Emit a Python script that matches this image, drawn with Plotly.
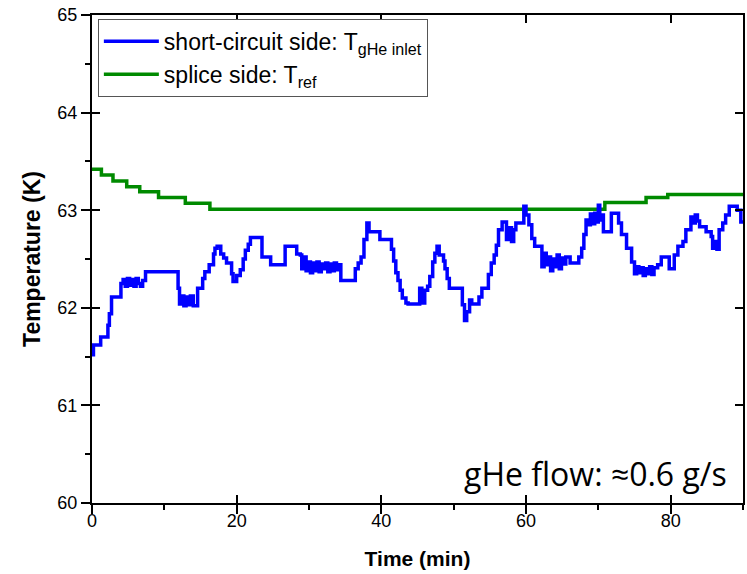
import plotly.graph_objects as go

# ---- data ----
blue_t = [0.0, 0.2, 1.2, 2.2, 2.4, 2.7, 4.0, 4.3, 4.6, 4.9, 5.2, 5.5, 5.8, 6.1, 6.4, 6.7, 7.0, 7.4,
          11.9, 12.1, 12.4, 12.7, 13.0, 13.3, 13.6, 14.0, 14.6, 15.3, 15.6, 16.2, 16.8, 17.0, 17.3,
          17.8, 18.2, 18.6, 19.3, 19.5, 20.0, 20.5, 20.9, 21.2, 21.6, 21.9, 23.5, 24.7, 26.7, 28.3,
          28.8, 29.0, 29.3, 29.6, 29.9, 30.2, 30.5, 30.8, 31.1, 31.4, 31.7, 32.0, 32.3, 32.6, 32.9,
          33.2, 33.5, 33.8, 34.1, 34.4, 36.4, 36.8, 37.2, 37.6, 38.0, 38.3, 39.8, 41.4, 41.7, 42.0,
          42.3, 42.6, 42.9, 43.4, 43.7, 45.3, 45.6, 46.0, 46.4, 46.7, 47.1, 47.4, 47.7, 48.0, 48.6,
          48.8, 49.1, 49.4, 51.2, 51.5, 51.8, 52.2, 52.5, 53.5, 53.9, 54.8, 55.2, 55.6, 55.9, 56.2,
          56.7, 57.3, 57.7, 58.0, 58.3, 58.6, 59.7, 60.0, 60.4, 60.8, 61.2, 62.2, 62.5, 62.8, 63.1,
          63.4, 63.7, 64.0, 64.3, 64.6, 64.9, 65.2, 65.5, 66.1, 67.3, 67.7, 68.0, 68.3, 68.6, 68.9,
          69.2, 69.5, 69.8, 70.0, 70.2, 70.5, 70.7, 71.8, 72.8, 73.2, 73.9, 74.6, 75.0, 75.3, 75.6,
          75.9, 76.2, 76.5, 76.8, 77.1, 77.4, 77.7, 78.2, 78.7, 79.8, 80.5, 81.0, 81.7, 82.1, 82.8,
          83.1, 83.4, 83.7, 84.0, 84.9, 85.6, 85.8, 86.1, 86.4, 86.7, 87.2, 87.6, 88.1, 89.2, 89.7,
          90.0]
blue_T = [61.52, 61.62, 61.70, 61.82, 61.94, 62.11, 62.25, 62.29, 62.22, 62.30, 62.23, 62.29, 62.22,
          62.30, 62.25, 62.22, 62.28, 62.37,
          62.20, 62.04, 62.12, 62.02, 62.11, 62.03, 62.12, 62.02, 62.20, 62.30, 62.37, 62.44, 62.55,
          62.61, 62.63, 62.55, 62.51, 62.46, 62.35, 62.27, 62.33, 62.39, 62.50, 62.59, 62.65, 62.72,
          62.52, 62.44, 62.63, 62.55,
          62.54, 62.40, 62.52, 62.38, 62.47, 62.36, 62.46, 62.38, 62.47, 62.37, 62.45, 62.40, 62.46,
          62.37, 62.45, 62.38, 62.46, 62.39, 62.44, 62.28, 62.40, 62.46, 62.52, 62.70, 62.87, 62.78,
          62.70, 62.60, 62.48, 62.36, 62.28, 62.18, 62.10, 62.05, 62.04, 62.20, 62.05, 62.18, 62.22,
          62.32, 62.47, 62.56, 62.63, 62.54, 62.48, 62.40, 62.30, 62.20, 62.03, 61.87, 61.96, 62.08,
          62.04, 62.11, 62.20, 62.34, 62.46, 62.54, 62.64, 62.80, 62.88, 62.70, 62.82, 62.68, 62.80,
          62.87, 63.04, 62.95, 62.85, 62.71, 62.63, 62.42, 62.56, 62.44, 62.52, 62.38, 62.50, 62.42,
          62.54, 62.40, 62.51, 62.45, 62.52, 62.46, 62.52, 62.61, 62.75, 62.90, 62.85, 62.96, 62.86,
          62.97, 62.88, 63.05, 62.90, 62.95, 62.78, 62.97, 62.87, 62.75, 62.61, 62.47, 62.35, 62.42,
          62.36, 62.41, 62.33, 62.40, 62.35, 62.42, 62.34, 62.41, 62.44, 62.52, 62.40, 62.54, 62.63,
          62.68, 62.80, 62.93, 62.87, 62.95, 62.89, 62.83, 62.78, 62.73, 62.61, 62.68, 62.60, 62.80,
          62.87, 62.95, 63.04, 63.00, 62.88, 62.88]

green_t = [0.0, 1.3, 2.9, 4.8, 6.6, 9.2, 12.9, 16.3, 70.9, 76.6, 79.6, 90.0]
green_T = [63.42, 63.36, 63.30, 63.24, 63.19, 63.13, 63.07, 63.01, 63.08, 63.13, 63.16, 63.16]

x_range = [0, 90]
y_range = [60, 65]
x_title = "Time (min)"
y_title = "Temperature (K)"
blue_name = "short-circuit side: T<sub>gHe inlet</sub>"
green_name = "splice side: T<sub>ref</sub>"
note_text = "gHe flow: ≈0.6 g/s"

FONT = "Liberation Sans, Arial, sans-serif"

fig = go.Figure()
fig.add_trace(go.Scatter(x=blue_t, y=blue_T, mode="lines", name=blue_name,
                         line=dict(color="#0000ff", width=3.5, shape="hv"),
                         xaxis="x2", yaxis="y2"))
fig.add_trace(go.Scatter(x=green_t, y=green_T, mode="lines", name=green_name,
                         line=dict(color="#008a00", width=3.5, shape="hv")))

axis_common = dict(showline=True, linecolor="black", linewidth=2, showgrid=False,
                   zeroline=False, tickcolor="black", tickwidth=1.5)

fig.update_layout(
    width=747, height=574,
    margin=dict(l=92, r=2, t=15, b=71),
    paper_bgcolor="white", plot_bgcolor="white",
    font=dict(family=FONT, color="black", size=18),
    # main x axis: labels + inside ticks (mirrored to top)
    xaxis=dict(range=x_range, dtick=20, ticks="inside", ticklen=8, mirror="ticks",
               title=dict(text=x_title, font=dict(size=21, family=FONT, weight="bold"), standoff=22),
               tickfont=dict(size=18), **axis_common),
    yaxis=dict(range=y_range, dtick=1, ticks="outside", ticklen=9,
               minor=dict(dtick=0.5, ticks="outside", ticklen=5, tickcolor="black", tickwidth=1.5),
               title=dict(text=y_title, font=dict(size=23, family=FONT, weight="bold"), standoff=10),
               tickfont=dict(size=18), **axis_common),
    # overlay x axis: outside major/minor ticks only
    xaxis2=dict(range=x_range, dtick=20, ticks="outside", ticklen=9,
                minor=dict(dtick=10, ticks="outside", ticklen=5, tickcolor="black", tickwidth=1.5),
                showticklabels=False, overlaying="x", anchor="y2", **axis_common),
    yaxis2=dict(range=y_range, dtick=1, ticks="inside", ticklen=8, mirror="ticks",
                showticklabels=False, overlaying="y", anchor="x2", **axis_common),
    legend=dict(x=0.009, y=0.992, xanchor="left", yanchor="top",
                bgcolor="white", bordercolor="#555555", borderwidth=1,
                font=dict(size=23, family=FONT), itemwidth=55, tracegroupgap=0),
    showlegend=True,
)

fig.add_annotation(text=note_text, xref="paper", yref="paper", x=0.978, y=0.012,
                   xanchor="right", yanchor="bottom", showarrow=False,
                   font=dict(family="Open Sans, sans-serif", size=32, color="black"))

fig.write_html("out.html")
